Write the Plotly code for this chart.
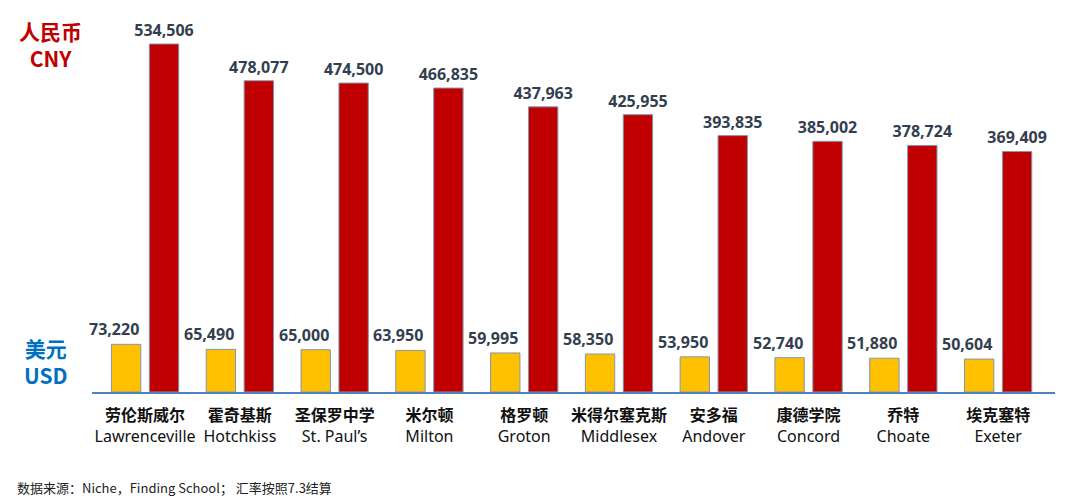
import plotly.graph_objects as go

schools_cn = ["劳伦斯威尔", "霍奇基斯", "圣保罗中学", "米尔顿", "格罗顿",
              "米得尔塞克斯", "安多福", "康德学院", "乔特", "埃克塞特"]
schools_en = ["Lawrenceville", "Hotchkiss", "St. Paul’s", "Milton", "Groton",
              "Middlesex", "Andover", "Concord", "Choate", "Exeter"]
usd = [73220, 65490, 65000, 63950, 59995, 58350, 53950, 52740, 51880, 50604]
cny = [534506, 478077, 474500, 466835, 437963, 425955, 393835, 385002, 378724, 369409]

labels = [f"<b>{c}</b><br>{e}" for c, e in zip(schools_cn, schools_en)]
x = list(range(len(schools_en)))

LABEL_FONT = dict(family="Open Sans, Noto Sans, sans-serif", size=16, color="#333F50")

fig = go.Figure()
fig.add_trace(go.Bar(
    x=x, y=usd, name="USD",
    marker=dict(color="#FFC000", line=dict(color="#8496B0", width=1)),
    width=0.31, offset=-0.355,
))
fig.add_trace(go.Bar(
    x=x, y=cny, name="CNY",
    marker=dict(color="#C00000", line=dict(color="#8496B0", width=1)),
    width=0.31, offset=0.045,
    texttemplate="<b>%{y:,}</b>", textposition="outside",
    textfont=LABEL_FONT, cliponaxis=False, constraintext="none",
))

for xi, v in zip(x, usd):
    fig.add_annotation(
        x=xi, y=v, xref="x", yref="y", text=f"<b>{v:,}</b>",
        showarrow=False, yanchor="bottom", xshift=-31, yshift=2,
        font=LABEL_FONT,
    )

fig.add_annotation(x=-0.0426, y=0.933, xref="paper", yref="paper",
                   text="<b>人民币<br>CNY</b>", showarrow=False,
                   xanchor="center", yanchor="middle",
                   font=dict(family="Noto Sans CJK SC, sans-serif", size=21, color="#C00000"))
fig.add_annotation(x=-0.048, y=0.083, xref="paper", yref="paper",
                   text="<b>美元<br>USD</b>", showarrow=False,
                   xanchor="center", yanchor="middle",
                   font=dict(family="Noto Sans CJK SC, sans-serif", size=21, color="#0070C0"))
fig.add_annotation(x=-0.080, y=-0.256, xref="paper", yref="paper",
                   text="数据来源：Niche，Finding School； 汇率按照7.3结算",
                   showarrow=False, xanchor="left", yanchor="middle",
                   font=dict(family="Noto Sans CJK SC, sans-serif", size=13, color="#222222"))

# page body has an 8px margin: figure is sized so the plot lands at the reference position
fig.update_layout(
    width=1072, height=492,
    margin=dict(l=84, r=25, t=12, b=108, autoexpand=False),
    paper_bgcolor="white", plot_bgcolor="white",
    showlegend=False, barmode="overlay",
    xaxis=dict(
        tickmode="array", tickvals=x, ticktext=labels, automargin=False,
        range=[-0.56, 9.60], showline=True, linecolor="#4F81BD", linewidth=1.5,
        showgrid=False, zeroline=False, ticks="", ticklabelstandoff=8,
        tickfont=dict(family="Noto Sans, Noto Sans CJK SC, sans-serif", size=16, color="#111111"),
    ),
    yaxis=dict(range=[0, 571357], visible=False, showgrid=False, zeroline=False,
               automargin=False),
)

fig.write_html("out.html")
